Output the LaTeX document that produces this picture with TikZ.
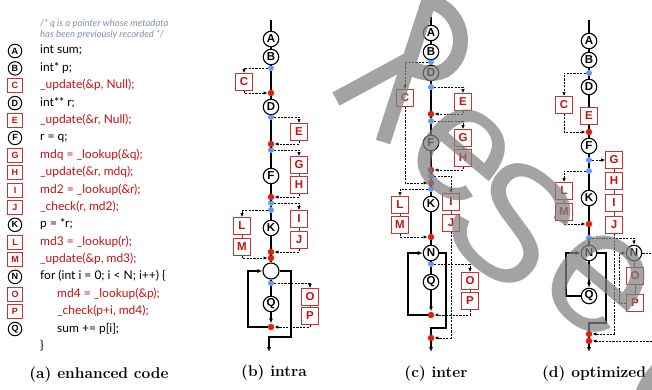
\documentclass[tikz,border=0pt]{standalone}
\usepackage{fontspec}
\newfontfamily\codefont{Lato}
\newfontfamily\tagfont{Liberation Sans}
\usetikzlibrary{arrows.meta}
\definecolor{codered}{RGB}{200,16,16}
\definecolor{boxred}{RGB}{208,48,48}
\definecolor{cmtgray}{RGB}{128,145,175}
\definecolor{dotblue}{RGB}{95,155,250}
\definecolor{dotred}{RGB}{222,34,14}
\definecolor{wmgray}{RGB}{128,128,128}
\tikzset{
  stmt/.style={circle,draw,line width=1.1pt,fill=white,minimum size=15.5pt,inner sep=0pt,
    font=\tagfont\bfseries\fontsize{11.5}{11.5}\selectfont},
  chk/.style={rectangle,draw=boxred,line width=1.1pt,fill=white,minimum size=16.5pt,inner sep=0pt,
    text=codered,font=\tagfont\bfseries\fontsize{11.5}{11.5}\selectfont},
  bdot/.style={circle,fill=dotblue,minimum size=6pt,inner sep=0pt},
  rdot/.style={circle,fill=dotred,minimum size=6.5pt,inner sep=0pt},
  flow/.style={line width=1.1pt},
  flowarr/.style={flow,-{Latex[length=5pt,width=4pt]}},
  meta/.style={line width=0.75pt,dash pattern=on 2.2pt off 1.2pt,-{Latex[length=4pt,width=3.4pt]}},
  metaline/.style={line width=0.75pt,dash pattern=on 2.2pt off 1.2pt},
  link/.style={line width=0.6pt,draw=black!70},
  cstmt/.style={circle,draw,line width=1pt,minimum size=13.5pt,inner sep=0pt,
    font=\tagfont\bfseries\fontsize{9}{9}\selectfont},
  cchk/.style={rectangle,draw=boxred,line width=1pt,minimum width=14.5pt,minimum height=14pt,inner sep=0pt,
    text=codered,font=\tagfont\bfseries\fontsize{9}{9}\selectfont},
  code/.style={anchor=west,inner sep=0pt,font=\codefont\fontsize{12}{12}\selectfont,text height=9pt,text depth=3pt},
  redcode/.style={code,text=codered},
  cmt/.style={anchor=west,inner sep=0pt,font=\codefont\itshape\fontsize{9.5}{9.5}\selectfont,text=cmtgray},
  caption/.style={inner sep=0pt,font=\bfseries\fontsize{15.5}{15.5}\selectfont},
  wmark/.style={draw=wmgray,draw opacity=0.72,line width=15pt},
  wglyph/.style={text=wmgray,text opacity=0.72,inner sep=0pt,font=\tagfont\fontsize{165}{165}\selectfont},
}
\begin{document}
\begin{tikzpicture}[x=1pt,y=-1pt]
\useasboundingbox (0,0) rectangle (652,390);

% ---------------- (a) enhanced code ----------------
\node[cmt] (cm1) at (40,24) {/* q is a pointer whose metadata};
\node[cmt] (cm2) at (40,35) {has been previously recorded */};
\node[cstmt] (aA) at (15,51)    {A}; \node[code]    (tA) at (40,51)    {int sum;};
\node[cstmt] (aB) at (15,68.4)  {B}; \node[code]    (tB) at (40,68.4)  {int* p;};
\node[cchk]  (aC) at (15,85.8)  {C}; \node[redcode] (tC) at (40,85.8)  {\_update(\&p, Null);};
\node[cstmt] (aD) at (15,103.1) {D}; \node[code]    (tD) at (40,103.1) {int** r;};
\node[cchk]  (aE) at (15,120.5) {E}; \node[redcode] (tE) at (40,120.5) {\_update(\&r, Null);};
\node[cstmt] (aF) at (15,137.9) {F}; \node[code]    (tF) at (40,137.9) {r = q;};
\node[cchk]  (aG) at (15,155.3) {G}; \node[redcode] (tG) at (40,155.3) {mdq = \_lookup(\&q);};
\node[cchk]  (aH) at (15,172.6) {H}; \node[redcode] (tH) at (40,172.6) {\_update(\&r, mdq);};
\node[cchk]  (aI) at (15,190)   {I}; \node[redcode] (tI) at (40,190)   {md2 = \_lookup(\&r);};
\node[cchk]  (aJ) at (15,207.4) {J}; \node[redcode] (tJ) at (40,207.4) {\_check(r, md2);};
\node[cstmt] (aK) at (15,224.8) {K}; \node[code]    (tK) at (40,224.8) {p = *r;};
\node[cchk]  (aL) at (15,242.1) {L}; \node[redcode] (tL) at (40,242.1) {md3 = \_lookup(r);};
\node[cchk]  (aM) at (15,259.5) {M}; \node[redcode] (tM) at (40,259.5) {\_update(\&p, md3);};
\node[cstmt] (aN) at (15,276.9) {N}; \node[code]    (tN) at (40,276.9) {for (int i = 0; i < N; i++) \{};
\node[cchk]  (aO) at (15,294.3) {O}; \node[redcode] (tO) at (57,294.3) {md4 = \_lookup(\&p);};
\node[cchk]  (aP) at (15,311.6) {P}; \node[redcode] (tP) at (57,311.6) {\_check(p+i, md4);};
\node[cstmt] (aQ) at (15,329)   {Q}; \node[code]    (tQ) at (57,329)   {sum += p[i];};
\node[code]  (tR) at (40,346.4) {\}};
\node[caption] (capa) at (99,375) {(a) enhanced code};

% ---------------- (b) intra ----------------
\coordinate (btop) at (271,20);
\node[stmt] (bA) at (271,39) {A};
\node[stmt] (bB) at (271,57) {B};
\node[bdot] (bd1) at (271,68) {};
\node[chk]  (bC) at (244,82) {C};
\node[rdot] (br1) at (271,93) {};
\node[stmt] (bD) at (271,107) {D};
\node[bdot] (bd2) at (271,117) {};
\node[chk]  (bE) at (299,132) {E};
\node[rdot] (br2) at (271,144) {};
\node[bdot] (bd3) at (271,150) {};
\node[chk]  (bG) at (299,165) {G};
\node[stmt] (bF) at (271,176) {F};
\node[chk]  (bH) at (299,185) {H};
\node[rdot] (br3) at (271,197) {};
\node[bdot] (bd4) at (271,203) {};
\node[bdot] (bd5) at (271,210) {};
\node[chk]  (bI) at (299,219) {I};
\node[chk]  (bL) at (242,226) {L};
\node[stmt] (bK) at (271,228) {K};
\node[chk]  (bJ) at (299,240) {J};
\node[chk]  (bM) at (242,247) {M};
\node[rdot] (br4) at (271,252) {};
\node[rdot] (br5) at (271,258) {};
\node[stmt,minimum size=16pt] (bN) at (271,271) {};
\node[bdot] (bd6) at (271,283) {};
\node[chk]  (bO) at (310,297) {O};
\node[stmt] (bQ) at (271,304) {Q};
\node[chk]  (bP) at (310,316) {P};
\node[rdot] (br6) at (271,327) {};
\coordinate (bl1) at (248,327); \coordinate (bl2) at (248,271);
\coordinate (bx1) at (291,271); \coordinate (bx2) at (291,337);
\coordinate (bx3) at (269,337); \coordinate (bx4) at (269,352);

\draw[flow] (btop) -- (bA) -- (bB) -- (bd1) -- (br1) -- (bD) -- (bd2) -- (br2) -- (bd3) -- (bF)
  -- (br3) -- (bd4) -- (bd5) -- (bK) -- (br4) -- (br5) -- (bN);
\draw[flow] (bN) -- (bd6) -- (bQ);
\draw[flowarr] (bQ) -- (br6);
\draw[flowarr] (br6) -- (bl1) -- (bl2) -- (bN);
\draw[flowarr] (bN) -- (bx1) -- (bx2) -- (bx3) -- (bx4);
\draw[meta] (bd1) -| (bC);
\draw[meta] (bC) |- (br1);
\draw[meta] (bd2) -| (bE);
\draw[meta] (bE) |- (br2);
\draw[meta] (bd3) -| (bG);
\draw[meta] (bH) |- (br3);
\draw[meta] (bd4) -| (bI);
\draw[meta] (bd5) -| (bL);
\draw[meta] (bJ) |- (br4);
\draw[meta] (bM) |- (br5);
\draw[meta] (bd6) -| (bO);
\draw[meta] (bP) |- (br6);
\draw[link] (bG) -- (bH); \draw[link] (bI) -- (bJ);
\draw[link] (bL) -- (bM); \draw[link] (bO) -- (bP);
\node[caption] (capb) at (274,373) {(b) intra};

% ---------------- (c) inter ----------------
\coordinate (ctop) at (431,17);
\node[stmt] (cA) at (431,33) {A};
\node[stmt] (cB) at (431,52) {B};
\node[bdot] (cd1) at (431,62) {};
\node[stmt] (cD) at (431,73) {D};
\node[bdot] (cd2) at (431,87) {};
\node[chk]  (cC) at (405,98) {C};
\node[chk]  (cE) at (463,102) {E};
\node[rdot] (cr1) at (431,114) {};
\node[bdot] (cd3) at (431,121) {};
\node[chk]  (cG) at (463,138) {G};
\node[stmt] (cF) at (431,143) {F};
\node[chk]  (cH) at (463,158) {H};
\node[rdot] (cr2) at (431,170) {};
\node[bdot] (cd4) at (431,176) {};
\node[rdot] (cr3) at (431,183) {};
\node[bdot] (cd5) at (431,189) {};
\node[chk]  (cI) at (451,202) {I};
\node[stmt] (cK) at (431,204) {K};
\node[chk]  (cL) at (400,205) {L};
\node[chk]  (cJ) at (451,223) {J};
\node[chk]  (cM) at (400,225) {M};
\node[rdot] (cr4) at (431,237) {};
\node[stmt] (cN) at (431,253) {N};
\node[bdot] (cd6) at (431,264) {};
\node[chk]  (cO) at (470,281) {O};
\node[stmt] (cQ) at (431,282) {Q};
\node[chk]  (cP) at (470,301) {P};
\node[rdot] (cr5) at (431,315) {};
\node[rdot] (cr6) at (431,338) {};
\coordinate (cl1) at (408,315); \coordinate (cl2) at (408,253);
\coordinate (cx1) at (446,253); \coordinate (cx2) at (446,328);
\coordinate (cx3) at (431,328); \coordinate (cend) at (431,352);

\draw[flow] (ctop) -- (cA) -- (cB) -- (cd1) -- (cD) -- (cd2) -- (cr1) -- (cd3) -- (cF) -- (cr2)
  -- (cd4) -- (cr3) -- (cd5) -- (cK) -- (cr4) -- (cN);
\draw[flow] (cN) -- (cd6) -- (cQ);
\draw[flowarr] (cQ) -- (cr5);
\draw[flowarr] (cr5) -- (cl1) -- (cl2) -- (cN);
\draw[flow] (cN) -- (cx1) -- (cx2) -- (cx3) -- (cr6);
\draw[flowarr] (cr6) -- (cend);
\draw[meta] (cd1) -| (cC);
\draw[meta] (cC) |- (cr3);
\draw[meta] (cd2) -| (cE);
\draw[meta] (cE) |- (cr1);
\draw[meta] (cd3) -| (cG);
\draw[meta] (cH) |- (cr2);
\draw[meta] (cd4) -| (cI);
\draw[meta] (cd5) -| (cL);
\draw[meta] (cJ) |- (cr6);
\draw[meta] (cM) |- (cr4);
\draw[meta] (cd6) -| (cO);
\draw[meta] (cP) |- (cr5);
\draw[link] (cG) -- (cH); \draw[link] (cI) -- (cJ);
\draw[link] (cL) -- (cM); \draw[link] (cO) -- (cP);
\node[caption] (capc) at (436,374) {(c) inter};

% ---------------- (d) optimized ----------------
\coordinate (dtop) at (589,20);
\node[stmt] (dA) at (589,41) {A};
\node[stmt] (dB) at (589,60) {B};
\node[bdot] (dd1) at (589,73) {};
\node[stmt] (dD) at (589,87) {D};
\node[chk]  (dC) at (564,105) {C};
\node[chk]  (dE) at (589,116) {E};
\node[rdot] (dr1) at (589,132) {};
\node[stmt] (dF) at (589,146) {F};
\node[bdot] (dd2) at (589,160) {};
\node[chk]  (dG) at (614,160) {G};
\node[bdot] (dd3) at (589,171) {};
\node[chk]  (dH) at (614,181) {H};
\node[chk]  (dL) at (564,191) {L};
\node[stmt] (dK) at (589,198) {K};
\node[chk]  (dI) at (614,203) {I};
\node[chk]  (dM) at (564,212) {M};
\node[rdot] (dr2) at (589,224) {};
\node[chk]  (dJ) at (614,225) {J};
\node[bdot] (dd4) at (589,238) {};
\node[stmt] (dN) at (589,253) {N};
\node[stmt] (dN2) at (634,253) {N};
\node[chk]  (dO) at (635,276) {O};
\node[stmt] (dQ) at (589,296) {Q};
\node[chk]  (dP) at (635,303) {P};
\node[rdot] (dr3) at (589,334) {};
\node[rdot] (dr4) at (589,341) {};
\coordinate (dl1) at (566,296); \coordinate (dl2) at (566,253);
\coordinate (dx1) at (606,253); \coordinate (dx2) at (606,323);
\coordinate (dx3) at (589,323); \coordinate (dend) at (589,352);
\coordinate (dp1) at (619,303); \coordinate (dp2) at (619,253);
\coordinate (dout) at (652,253); \coordinate (din) at (652,341);

\draw[flow] (dtop) -- (dA) -- (dB) -- (dd1) -- (dD) -- (dE) -- (dr1) -- (dF) -- (dd2) -- (dd3)
  -- (dK) -- (dr2) -- (dd4) -- (dN);
\draw[flowarr] (dN) -- (dQ);
\draw[flowarr] (dQ) -- (dl1) -- (dl2) -- (dN);
\draw[flow] (dN) -- (dx1) -- (dx2) -- (dx3) -- (dr3) -- (dr4);
\draw[flowarr] (dr4) -- (dend);
\draw[meta] (dd1) -| (dC);
\draw[meta] (dC) |- (dr1);
\draw[meta] (dd2) -- (dG);
\draw[meta] (dd3) -| (dL);
\draw[meta] (dM) |- (dr2);
\draw[meta] (dd4) -| (dN2);
\draw[meta] (dJ) |- (dr3);
\draw[meta] (dP) -- (dp1) -- (dp2) -- (dN2);
\draw[metaline] (dN2) -- (dout);
\draw[meta] (din) -- (dr4);
\draw[link] (dG) -- (dH); \draw[link] (dH) -- (dI); \draw[link] (dI) -- (dJ);
\draw[link] (dL) -- (dM); \draw[link] (dN2) -- (dO); \draw[link] (dO) -- (dP);
\node[caption,anchor=west] (capd) at (542,374) {(d) optimized};

% ---------------- grey lettering across the right panels ----------------
\draw[wmark] (431,-6) -- (383,142)
  (431,2) .. controls (462,10) and (470,50) .. (448,68) .. controls (438,77) and (418,74) .. (405,64)
  (408,60) -- (336,99);
\node[wglyph,rotate=-40] (wm1) at (462,155) {e};
\node[wglyph,rotate=-40] (wm2) at (512,222) {S};
\node[wglyph,rotate=-40,font=\tagfont\fontsize{175}{175}\selectfont] (wm3) at (598,283) {e};
\node[wglyph,rotate=-40] (wm4) at (675,392) {c};
\end{tikzpicture}
\end{document}
